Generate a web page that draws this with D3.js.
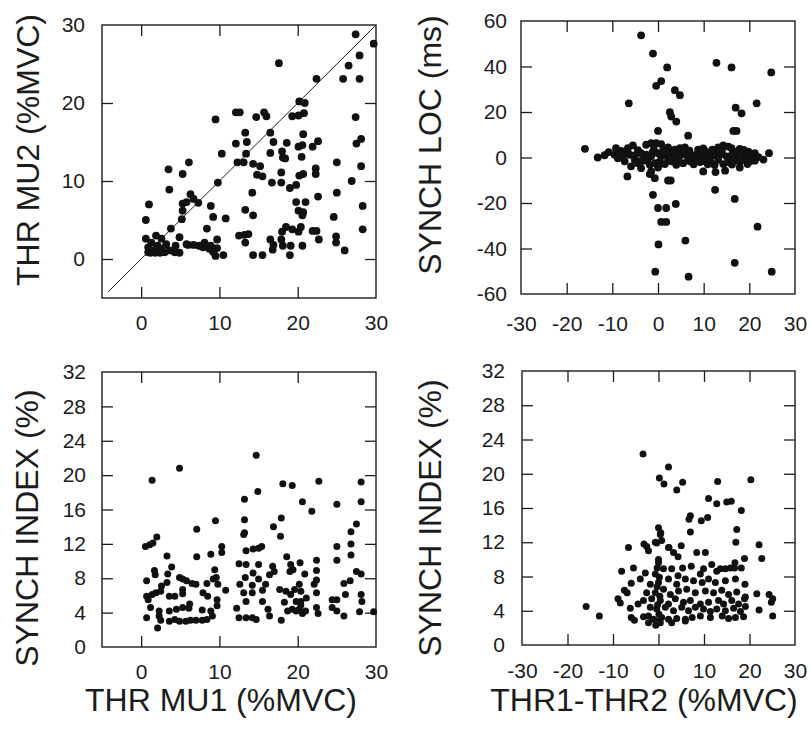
<!DOCTYPE html>
<html>
<head>
<meta charset="utf-8">
<script src="https://cdnjs.cloudflare.com/ajax/libs/d3/7.8.5/d3.min.js"></script>
<style>
  body { margin: 0; background: #fff; }
  svg { display: block; }
  text { font-family: "Liberation Sans", Arial, Helvetica, sans-serif; fill: #1c1c1c; }
</style>
</head>
<body>
<div id="chart"></div>
<script>
// THR MU1 vs THR MU2 (%MVC)
const thrPoints = [
  [27.4,28.8],[29.7,27.6],[17.6,25.1],[27.9,26.1],[26.5,24.8],[22.4,23.1],[25.8,23.1],[27.9,23.1],
  [20.2,20.2],[20.9,20.0],[20.8,18.7],[20.1,18.4],[19.3,18.3],[27.4,18.2],[12.1,18.8],[12.6,18.8],[9.5,17.9],[14.7,18.2],[15.7,18.8],[16.0,18.3],
  [13.3,16.2],[16.5,16.2],[12.1,14.8],[13.5,15.0],[16.9,15.0],[18.6,14.9],[20.7,16.0],[20.1,14.4],[20.6,14.6],[21.9,14.4],[22.6,15.1],[27.5,14.8],[28.1,15.4],
  [10.3,13.5],[13.4,13.5],[16.5,13.6],[18.0,13.8],[18.4,12.9],[18.1,13.0],[20.5,13.1],[12.3,12.4],[13.1,12.4],[14.3,12.2],[15.2,11.9],[14.8,10.8],[15.5,10.6],
  [17.9,11.1],[20.2,10.7],[20.7,10.9],[22.3,11.6],[22.3,10.9],[25.0,12.4],[28.1,11.9],
  [6.1,12.4],[3.5,11.5],[5.3,10.9],[9.8,9.8],[16.7,9.8],[17.9,9.8],[14.2,8.5],[19.0,9.1],[19.8,9.5],[26.9,10.0],[3.6,8.9],[25.0,8.5],
  [6.3,8.3],[6.7,7.7],[7.3,7.2],[5.8,7.3],[5.3,7.1],[1.0,7.0],[19.8,7.3],[21.0,7.3],[22.6,8.0],[28.3,6.8],[5.3,6.2],[8.9,6.8],[13.3,6.3],
  [20.1,6.2],[20.7,6.0],[20.6,5.6],[9.2,5.4],[10.8,5.2],[14.3,5.6],[24.6,5.4],[0.6,5.0],[5.2,5.1],
  [8.4,3.9],[3.8,3.9],[18.5,4.1],[19.3,3.8],[20.1,3.5],[20.4,4.1],[21.9,3.6],[22.4,3.6],[28.3,3.8],[18.0,3.5],[12.5,3.0],[13.2,3.1],[13.7,3.2],
  [13.3,2.1],[4.9,2.8],[24.9,2.9],[24.9,2.1],[22.7,2.5],[16.5,2.5],[16.9,1.8],[17.9,2.5],[18.1,1.7],[19.1,1.7],[20.6,1.7],[16.8,1.2],
  [19.0,0.5],[14.3,0.5],[15.5,0.5],[26.0,1.1],
  [9.7,2.5],[9.7,1.4],[9.5,0.4],[9.2,0.9],[10.5,0.5],[8.9,1.7],[8.1,2.1],[7.4,1.7],[6.7,1.8],[6.0,1.8],[4.9,0.8],[4.4,1.7],
  [0.6,2.6],[1.9,3.0],[2.6,2.6],[1.3,2.1],[0.9,1.5],[1.5,1.1],[0.9,0.85],[2.1,1.7],[2.6,1.3],[3.0,0.85],[3.6,1.1],[3.2,1.9],
  [4.3,0.85],[5.8,1.9],[7.9,1.5],[8.7,1.3],[1.8,0.8],[2.4,0.8],[1.2,0.8]
];

// THR1-THR2 (%MVC) vs SYNCH LOC (ms)
const locPoints = [
  [-3.7,53.7],[-1.1,45.7],[2.0,39.6],[12.8,41.6],[16.1,39.6],[24.8,37.4],[-0.4,31.5],[0.7,33.6],[3.7,29.6],[4.8,27.4],
  [-6.4,23.8],[21.6,23.8],[17.0,21.9],[18.3,19.4],[2.6,19.9],[2.9,18.0],[4.0,15.8],[0,11.7],[6.6,9.6],[16.5,11.7],[17.2,11.7],
  [-16.0,3.8],[-13.2,0],[24.3,1.9],[-6.7,-8.3],[-1.1,-16.4],[12.5,-14.2],[16.8,-18.2],[3.9,-20.4],[0,-22.2],[1.8,-22.2],
  [0.7,-28.3],[1.8,-28.3],[0.1,-38.2],[6.0,-36.5],[21.8,-30.4],[16.8,-46.3],[-0.6,-50.2],[6.7,-52.4],[24.9,-50.2],
  [-1.8,-7.3],[-0.7,-9.1],[2.2,-10.1],[2.8,-10.1],[9.9,-6.1],[12.6,-6.4],[14.7,-5.8],
  [-9.2,4.1],[-8.1,2.9],[-6.6,4.1],[-5.5,5.3],[-2.6,5.6],[-1.5,6.3],[-0.4,6.3],[0.7,5.9],[2.2,4.4],[3.7,3.4],[4.8,4.1],[5.9,4.4],
  [8.8,3.4],[10.3,2.9],[13.2,4.4],[14.3,5.3],[15.4,4.8],[16.1,4.1],[17.9,3.8],[19.8,2.6],[21.2,1.9],
  [-9.5,1.2],[-8.4,0.5],[-7.3,1.5],[-6.2,1.2],[-5.1,0.9],[-3.7,1.9],[-2.6,1.2],[-1.5,0.5],[0,1.9],[0.7,0.5],[1.8,1.5],[2.9,1.2],
  [4.0,0.5],[5.1,1.2],[6.2,1.5],[7.3,0.9],[8.4,1.2],[9.5,0.9],[10.6,1.5],[11.7,0.5],[12.8,1.2],[13.9,1.5],[15.0,0.5],[16.1,0.9],
  [17.2,0.5],[18.3,1.2],[19.4,0.5],[20.5,-0.3],[22.0,0.2],
  [-7.3,-1.7],[-4.4,-2.5],[-2.9,-1.4],[-1.8,-3.2],[-0.7,-2.5],[0.4,-1.7],[1.5,-2.9],[2.9,-1.7],[4.0,-3.2],[5.5,-2.5],[7.0,-1.7],
  [8.1,-1.0],[9.2,-2.0],[10.3,-1.7],[11.7,-2.5],[13.2,-1.0],[14.3,-2.9],[15.4,-2.0],[16.5,-1.7],[17.9,-2.0],[19.0,-1.0],[20.1,-1.7],[21.2,-1.4],
  [-5.9,-3.9],[-3.7,-4.7],[0,-4.4],[-1.5,-6.1],[17.9,-4.4],
  [-5.1,-1.0],[-8.8,-0.3],[2.2,-0.6],[11.0,-0.3],[6.6,-0.3],[-2.2,-0.3],
  [-4.4,3.2],[-3.0,-0.6],[1.1,3.0],[3.3,2.6],[6.9,3.0],[9.9,4.0],[11.9,3.5],[14.0,2.8],[17.0,2.5],[18.8,3.3],[-0.9,3.6],
  [-10.8,2.4],[-11.7,1.0],[4.5,-1.2],[7.8,-3.0],[12.4,-3.3],[16.2,-3.1],[19.6,-2.9],[23.1,-0.9],[-3.9,-1.6],[0.2,-3.2],
  [1.6,3.6],[-1.2,2.2],[10.9,-3.0]
];

// THR MU1 (%MVC) vs SYNCH INDEX (%)
const idxThrPoints = [
  [14.7,22.3],[4.9,20.8],[1.4,19.4],[18.1,19.0],[19.3,18.8],[22.7,19.3],[28.1,19.2],[14.9,18.1],[13.2,17.2],[20.6,16.9],[25.0,16.6],[28.1,16.9],
  [21.8,15.8],[17.9,15.0],[9.5,14.7],[13.2,14.8],[7.1,13.7],[13.2,13.3],[13.1,13.1],[16.9,14.0],[17.8,12.9],[27.5,14.3],[26.8,13.4],
  [0.55,11.7],[1.1,11.9],[1.5,12.1],[2.0,12.8],[10.3,11.7],[10.3,11.0],[8.9,10.8],[7.1,10.5],[3.3,10.6],[13.4,11.2],[14.3,11.4],[15.0,11.5],[15.4,11.7],
  [25.0,11.7],[26.8,12.0],[25.0,10.1],[26.8,10.7],[22.4,10.1],[20.3,9.8],[18.6,10.5],[12.5,9.7],[13.4,9.6],[15.0,9.6],[16.8,9.4],[17.0,8.8],[16.4,8.4],
  [19.1,9.6],[19.4,9.0],[19.0,8.8],[20.9,8.5],[22.4,8.9],[22.4,7.8],[22.1,7.3],[27.5,8.8],[28.1,8.5],[26.7,7.7],[25.9,7.4],
  [0.7,7.7],[1.7,8.9],[1.8,8.4],[3.4,8.5],[3.9,9.3],[3.3,7.5],[4.9,8.1],[5.3,7.9],[5.8,7.7],[6.5,7.4],[7.0,7.3],[8.4,7.4],[9.2,7.9],[9.6,8.1],[9.4,9.0],
  [9.8,7.3],[10.8,6.6],[5.3,6.7],[5.3,6.2],[0.7,5.9],[1.4,6.1],[1.9,6.3],[0.9,5.5],[2.5,6.5],[2.6,7.1],[3.6,5.9],[4.3,5.9],[7.9,6.3],[8.5,5.9],[9.7,5.5],
  [12.6,7.3],[14.2,6.3],[15.5,6.6],[15.9,7.3],[15.0,7.9],[14.3,8.6],[13.3,8.1],[17.7,6.7],[18.5,6.5],[19.1,6.1],[19.6,6.7],[20.2,7.3],[20.4,6.5],
  [19.8,5.3],[20.4,5.3],[21.1,5.7],[22.4,6.3],[24.4,5.5],[25.0,5.5],[26.1,6.1],[28.1,6.1],[28.2,5.3],
  [1.2,4.6],[2.3,4.2],[3.6,4.2],[4.5,4.4],[5.3,4.6],[6.1,4.5],[6.2,5.0],[7.8,4.3],[8.9,4.2],[9.7,4.8],[0.7,3.4],[2.3,3.6],[2.5,3.1],[2.1,2.2],
  [3.6,3.0],[4.3,3.2],[4.9,3.0],[5.7,3.0],[6.3,3.1],[7.0,3.1],[7.8,3.1],[8.4,3.2],[9.1,3.6],[12.2,4.5],[12.5,3.4],[13.4,3.4],[14.2,3.4],[14.7,3.2],
  [15.5,5.3],[16.2,4.4],[16.4,3.6],[17.9,3.1],[18.3,5.2],[18.7,4.2],[19.3,4.4],[19.8,4.2],[20.2,4.4],[20.6,3.9],[21.0,4.2],[20.4,4.9],
  [22.4,4.6],[22.6,3.9],[24.4,4.6],[25.0,4.2],[25.9,3.6],[27.9,4.1],[29.7,4.1],[13.4,5.3],[13.1,6.3],[14.2,7.2]
];

// THR1-THR2 (%MVC) vs SYNCH INDEX (%)
const idxDiffPoints = [
  [-3.4,22.3],[2.2,20.8],[0.2,19.5],[1.2,18.8],[4.0,18.1],[5.3,19.0],[13.0,19.1],[20.3,19.3],[11.0,17.1],[12.8,16.5],[15.0,16.7],[16.0,16.8],
  [18.2,15.7],[7.0,15.1],[6.7,14.7],[9.4,14.5],[10.8,14.9],[7.0,13.2],[0,13.7],[0.5,13.1],[17.2,13.5],[17.0,12.0],[22.1,11.7],[22.7,10.1],
  [-6.6,11.4],[-3.2,11.8],[-2.6,11.5],[-0.7,12.0],[0.7,12.2],[2.3,11.4],[5.0,11.6],[8.4,10.8],[10.3,10.8],[16.8,9.6],[18.9,10.1],
  [-8.1,8.6],[-5.5,9.0],[-2.9,8.4],[-6.0,7.2],[-7.5,6.4],[-6.9,6.1],[-8.9,5.4],[-8.4,4.9],[-15.9,4.5],[-13.0,3.4],[-6.0,3.2],[-5.3,2.9],
  [-3.3,3.3],[-0.6,2.3],[-2.6,6.1],[-4.5,4.8],[21.6,6.0],[24.3,5.9],[25.1,5.4],[24.8,5.0],[22.1,4.1],[25.1,3.4],[19.0,7.1],[18.9,5.4],[18.7,3.3],
  [12.8,8.6],[13.6,8.9],[14.7,8.9],[15.8,9.0],[16.7,9.0],[18.2,9.0],[11.7,9.4],[11.0,7.7],[9.2,8.3],[7.2,9.2],[5.3,9.0],[2.9,8.9],
  [0.4,12.9],[-0.4,11.9],[2.2,11.4],[-2.2,11.0],[3.3,10.8],[4.3,10.3],[0,9.6],[1.1,8.9],[-0.7,8.3],[4.3,8.1],[9.9,8.9],
  [-4.0,7.7],[-1.8,7.1],[0,7.3],[2.2,7.7],[4.0,7.1],[5.9,7.7],[7.7,7.5],[9.6,7.3],[12.5,7.3],[14.7,7.5],[16.9,7.7],
  [-0.7,6.1],[1.1,6.5],[2.6,5.9],[4.4,6.3],[6.2,6.5],[8.1,6.1],[10.3,6.3],[12.1,6.1],[13.9,6.4],[15.4,5.9],[17.2,6.2],[19.1,5.6],
  [-3.3,5.2],[-1.5,5.4],[0.4,5.2],[2.2,4.8],[3.7,5.4],[5.5,5.0],[7.0,5.2],[9.2,4.8],[11.0,5.0],[13.2,5.2],[14.3,4.8],[16.1,5.2],[17.6,4.8],[19.1,4.5],
  [-1.8,4.4],[-0.4,4.2],[1.5,4.4],[3.3,4.0],[5.1,4.4],[6.6,4.0],[8.1,4.4],[9.9,4.2],[11.4,3.9],[12.8,4.2],[14.7,4.0],[16.5,4.3],[18.0,3.9],[-6.2,4.3],
  [-2.2,3.4],[-1.1,3.0],[0.7,3.2],[2.2,3.0],[4.0,3.1],[5.9,3.0],[7.4,3.2],[9.2,3.4],[11.4,3.2],[14.0,3.4],[15.4,3.1],[16.9,3.2],
  [0.4,2.6],[2.9,2.6],[5.9,2.8],[-2.2,2.6],
  [0,10.0],[-0.3,9.0],[0.2,7.9],[-0.3,6.8],[0.3,5.7],[-0.2,4.7],[0.1,3.6],[-0.4,2.8]
];

// ticks and labels
const thrTicks = [0, 10, 20];
const thrLabels = [0, 10, 20, 30];
const diffTicks = [-20, -10, 0, 10, 20];
const diffLabels = [-30, -20, -10, 0, 10, 20, 30];
const locTicks = [-40, -20, 0, 20, 40];
const locLabels = [-60, -40, -20, 0, 20, 40, 60];
const idxTicks = [4, 8, 12, 16, 20, 24, 28];
const idxLabels = [0, 4, 8, 12, 16, 20, 24, 28, 32];

const width = 811, height = 736;

const svg = d3.select("#chart").append("svg")
  .attr("width", width)
  .attr("height", height);

svg.append("rect").attr("width", width).attr("height", height).attr("fill", "#fff");

const fmt = d => String(d);

function panel(p) {
  const x = d3.scaleLinear().domain(p.xDom).range([p.x0, p.x1]);
  const y = d3.scaleLinear().domain(p.yDom).range([p.y1, p.y0]);
  const g = svg.append("g");
  const tk = 11;

  // inside ticks on all four sides
  g.append("g").attr("transform", `translate(0,${p.y1})`)
    .call(d3.axisBottom(x).tickValues(p.xTicks).tickSize(-tk).tickFormat(""));
  g.append("g").attr("transform", `translate(0,${p.y0})`)
    .call(d3.axisTop(x).tickValues(p.xTicks).tickSize(-tk).tickFormat(""));
  g.append("g").attr("transform", `translate(${p.x0},0)`)
    .call(d3.axisLeft(y).tickValues(p.yTicks).tickSize(-tk).tickFormat(""));
  g.append("g").attr("transform", `translate(${p.x1},0)`)
    .call(d3.axisRight(y).tickValues(p.yTicks).tickSize(-tk).tickFormat(""));
  g.selectAll(".domain").remove();
  g.selectAll(".tick line").attr("stroke", "#1c1c1c").attr("stroke-width", 1.3);

  // tick labels
  const xl = g.append("g").attr("transform", `translate(0,${p.y1})`)
    .call(d3.axisBottom(x).tickValues(p.xLabels).tickSize(0).tickPadding(p.xPad).tickFormat(fmt));
  const yl = g.append("g").attr("transform", `translate(${p.x0},0)`)
    .call(d3.axisLeft(y).tickValues(p.yLabels).tickSize(0).tickPadding(p.yPad).tickFormat(fmt));
  [xl, yl].forEach(a => {
    a.select(".domain").remove();
    a.attr("font-size", 21).attr("font-family", null);
    a.selectAll("text").attr("fill", "#1c1c1c");
  });

  // frame
  g.append("rect")
    .attr("x", p.x0).attr("y", p.y0)
    .attr("width", p.x1 - p.x0).attr("height", p.y1 - p.y0)
    .attr("fill", "none").attr("stroke", "#1c1c1c").attr("stroke-width", 1.4);

  if (p.diag) {
    g.append("line")
      .attr("x1", x(-4.2)).attr("y1", y(-4.2))
      .attr("x2", x(30)).attr("y2", y(30))
      .attr("stroke", "#1c1c1c").attr("stroke-width", 1);
  }

  g.selectAll("circle").data(p.points).enter().append("circle")
    .attr("cx", d => x(d[0]))
    .attr("cy", d => y(d[1]))
    .attr("r", p.r)
    .attr("fill", "#111");

  // axis titles
  svg.append("text")
    .attr("transform", `translate(${p.yTitleX},${p.yTitleY}) rotate(-90)`)
    .attr("text-anchor", "middle")
    .attr("dominant-baseline", "central")
    .attr("font-size", 32)
    .text(p.yTitle);
  if (p.xTitle) {
    svg.append("text")
      .attr("x", p.xTitleX).attr("y", p.xTitleY)
      .attr("text-anchor", "middle")
      .attr("dominant-baseline", "central")
      .attr("font-size", 32)
      .text(p.xTitle);
  }
}

panel({
  x0: 102, x1: 376, y0: 25, y1: 298,
  xDom: [-5, 30], yDom: [-5, 30],
  xTicks: thrTicks, xLabels: thrLabels, yTicks: thrTicks, yLabels: thrLabels,
  xPad: 17, yPad: 17, points: thrPoints, r: 3.9, diag: true,
  yTitle: "THR MU2 (%MVC)", yTitleX: 28, yTitleY: 150
});

panel({
  x0: 521, x1: 795, y0: 21, y1: 294,
  xDom: [-30, 30], yDom: [-60, 60],
  xTicks: diffTicks, xLabels: diffLabels, yTicks: locTicks, yLabels: locLabels,
  xPad: 22, yPad: 14, points: locPoints, r: 3.9,
  yTitle: "SYNCH LOC (ms)", yTitleX: 430, yTitleY: 145
});

panel({
  x0: 102, x1: 376, y0: 372, y1: 647,
  xDom: [-5, 30], yDom: [0, 32],
  xTicks: thrTicks, xLabels: thrLabels, yTicks: idxTicks, yLabels: idxLabels,
  xPad: 17, yPad: 16, points: idxThrPoints, r: 3.5,
  yTitle: "SYNCH INDEX (%)", yTitleX: 27, yTitleY: 528,
  xTitle: "THR MU1 (%MVC)", xTitleX: 221, xTitleY: 700
});

panel({
  x0: 522, x1: 795, y0: 371, y1: 645,
  xDom: [-30, 30], yDom: [0, 32],
  xTicks: diffTicks, xLabels: diffLabels, yTicks: idxTicks, yLabels: idxLabels,
  xPad: 18, yPad: 17, points: idxDiffPoints, r: 3.5,
  yTitle: "SYNCH INDEX (%)", yTitleX: 430, yTitleY: 518,
  xTitle: "THR1-THR2 (%MVC)", xTitleX: 644, xTitleY: 700
});
</script>
</body>
</html>
